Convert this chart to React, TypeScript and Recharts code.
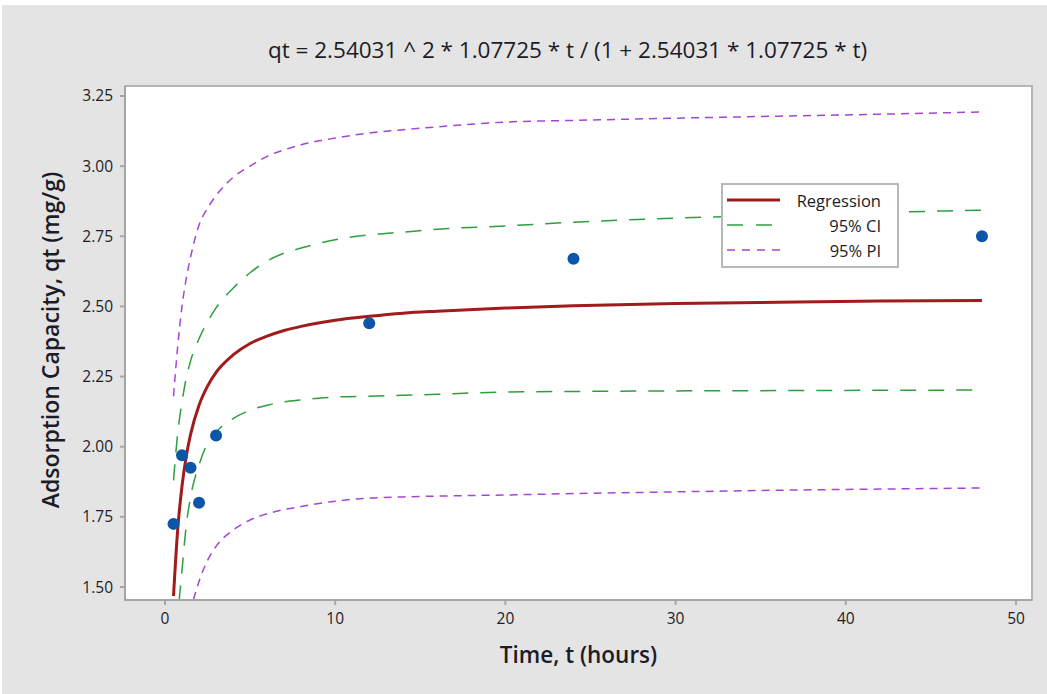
import React from 'react'
import {
  ComposedChart,
  Line,
  Scatter,
  XAxis,
  YAxis,
  Legend,
  ReferenceArea,
} from 'recharts'

// fitted curves at these times (hours)
const timeGrid = [0.5, 0.75, 1, 1.25, 1.5, 2, 2.5, 3, 4, 5, 6, 7, 8, 10, 12, 14, 16, 20, 24, 30, 36, 42, 48]
const regression = [1.468, 1.708, 1.86, 1.966, 2.043, 2.148, 2.216, 2.265, 2.327, 2.368, 2.394, 2.414, 2.429, 2.451, 2.465, 2.476, 2.483, 2.494, 2.502, 2.51, 2.515, 2.519, 2.521]
const ciUpper = [1.88, 2.05, 2.16, 2.245, 2.305, 2.385, 2.445, 2.495, 2.565, 2.62, 2.662, 2.69, 2.708, 2.738, 2.755, 2.765, 2.775, 2.787, 2.8, 2.815, 2.825, 2.835, 2.843]
const ciLower = [1.05, 1.38, 1.56, 1.72, 1.82, 1.935, 2.012, 2.052, 2.1, 2.13, 2.148, 2.16, 2.167, 2.177, 2.18, 2.183, 2.187, 2.195, 2.197, 2.199, 2.2, 2.201, 2.202]
const piUpper = [2.18, 2.36, 2.5, 2.6, 2.675, 2.79, 2.85, 2.895, 2.96, 3.0, 3.035, 3.058, 3.076, 3.1, 3.118, 3.13, 3.14, 3.157, 3.163, 3.171, 3.178, 3.185, 3.193]
const piLower = [0.76, 1.0, 1.2, 1.33, 1.41, 1.52, 1.595, 1.645, 1.703, 1.739, 1.761, 1.776, 1.787, 1.806, 1.817, 1.821, 1.824, 1.828, 1.833, 1.839, 1.845, 1.849, 1.853]

// observed points
const obsTime = [0.5, 1, 1.5, 2, 3, 12, 24, 48]
const obsQt = [1.725, 1.97, 1.925, 1.8, 2.04, 2.44, 2.67, 2.75]

const xTicks = [0, 10, 20, 30, 40, 50]
const yTicks = [1.5, 1.75, 2.0, 2.25, 2.5, 2.75, 3.0, 3.25]
const xDomain: [number, number] = [-2.35, 50.94]
const yDomain: [number, number] = [1.4537, 3.2856]

const RED = '#a01b1b'
const GREEN = '#2f9e3f'
const PURPLE = '#a545d4'
const BLUE = '#0b56a8'
const FONT = '"Open Sans", "Noto Sans", sans-serif'
const TEXT = '#1c1c28'

const legendItems = [
  { name: 'Regression', color: RED, width: 3, dash: undefined },
  { name: '95% CI', color: GREEN, width: 1.5, dash: '16 13' },
  { name: '95% PI', color: PURPLE, width: 1.5, dash: '8 7' },
]

const curveData = timeGrid.map((t, i) => ({
  t,
  reg: regression[i],
  ciHi: ciUpper[i],
  ciLo: ciLower[i],
  piHi: piUpper[i],
  piLo: piLower[i],
}))

const points = obsTime.map((t, i) => ({ t, q: obsQt[i] }))

function LegendBox() {
  return (
    <svg width={174} height={81} style={{ display: 'block' }}>
      {legendItems.map((item, i) => (
        <g key={item.name}>
          <line
            x1={4}
            x2={57}
            y1={15 + i * 25}
            y2={15 + i * 25}
            stroke={item.color}
            strokeWidth={item.width}
            strokeDasharray={item.dash}
          />
          <text
            x={158}
            y={15 + i * 25}
            textAnchor="end"
            dominantBaseline="central"
            fontSize={16.5}
            fontFamily={FONT}
            fill={TEXT}
          >
            {item.name}
          </text>
        </g>
      ))}
    </svg>
  )
}

export default function App() {
  const tick = { fontSize: 15.5, fill: TEXT, fontFamily: FONT }
  const axisStroke = { stroke: '#a6a6a6', strokeWidth: 2 }

  return (
    <div style={{ position: 'absolute', left: 0, top: 0, width: 1047, height: 694, background: '#fff' }}>
      <div style={{ position: 'absolute', left: 2, top: 5, right: 0, bottom: 0, background: '#e4e4e4' }} />
      <div
        style={{
          position: 'absolute',
          left: 0,
          top: 34,
          width: 1135,
          textAlign: 'center',
          fontFamily: FONT,
          fontSize: 22.5,
          color: TEXT,
        }}
      >
        qt = 2.54031 ^ 2 * 1.07725 * t / (1 + 2.54031 * 1.07725 * t)
      </div>
      <div style={{ position: 'absolute', left: 0, top: 0 }}>
        <ComposedChart
          width={1047}
          height={694}
          margin={{ top: 86, right: 15, bottom: 0, left: 0 }}
        >
          <ReferenceArea
            x1={xDomain[0]}
            x2={xDomain[1]}
            y1={yDomain[0]}
            y2={yDomain[1]}
            fill="#ffffff"
            fillOpacity={1}
            stroke="#b4b4b4"
            strokeWidth={2}
          />
          <XAxis
            type="number"
            dataKey="t"
            domain={xDomain}
            ticks={xTicks}
            allowDataOverflow
            height={94}
            tick={tick}
            tickSize={5}
            tickMargin={8}
            tickLine={axisStroke}
            axisLine={axisStroke}
            label={{
              value: 'Time, t (hours)',
              position: 'insideBottom',
              offset: 31,
              style: { fontSize: 22.5, fontWeight: 600, fill: TEXT, fontFamily: FONT },
            }}
          />
          <YAxis
            type="number"
            domain={yDomain}
            ticks={yTicks}
            allowDataOverflow
            width={125}
            tick={tick}
            tickSize={5}
            tickMargin={7}
            tickFormatter={(v: number) => v.toFixed(2)}
            tickLine={axisStroke}
            axisLine={axisStroke}
            label={{
              value: 'Adsorption Capacity, qt (mg/g)',
              content: ({ viewBox }: any) => {
                const cx = 50
                const cy = viewBox.y + viewBox.height / 2 - 3
                return (
                  <text
                    x={cx}
                    y={cy}
                    transform={`rotate(-90 ${cx} ${cy})`}
                    textAnchor="middle"
                    dominantBaseline="central"
                    fontSize={23}
                    fontWeight={600}
                    fontFamily={FONT}
                    fill={TEXT}
                  >
                    Adsorption Capacity, qt (mg/g)
                  </text>
                )
              },
            }}
          />
          <Legend
            layout="vertical"
            align="center"
            verticalAlign="middle"
            content={() => <LegendBox />}
            wrapperStyle={{
              left: 721,
              top: 183,
              width: 178,
              height: 85,
              background: '#fff',
              border: '2px solid #b8b8b8',
              boxSizing: 'border-box',
            }}
          />
          <Line data={curveData} dataKey="piHi" type="monotone" stroke={PURPLE} strokeWidth={1.5} strokeDasharray="8 6" dot={false} isAnimationActive={false} legendType="none" />
          <Line data={curveData} dataKey="piLo" type="monotone" stroke={PURPLE} strokeWidth={1.5} strokeDasharray="8 6" dot={false} isAnimationActive={false} legendType="none" />
          <Line data={curveData} dataKey="ciHi" type="monotone" stroke={GREEN} strokeWidth={1.5} strokeDasharray="16 12" dot={false} isAnimationActive={false} legendType="none" />
          <Line data={curveData} dataKey="ciLo" type="monotone" stroke={GREEN} strokeWidth={1.5} strokeDasharray="16 12" dot={false} isAnimationActive={false} legendType="none" />
          <Line data={curveData} dataKey="reg" type="monotone" stroke={RED} strokeWidth={3} dot={false} isAnimationActive={false} legendType="none" />
          <Scatter
            data={points}
            dataKey="q"
            isAnimationActive={false}
            legendType="none"
            shape={(p: any) => <circle cx={p.cx} cy={p.cy} r={6} fill={BLUE} />}
          />
        </ComposedChart>
      </div>
    </div>
  )
}
